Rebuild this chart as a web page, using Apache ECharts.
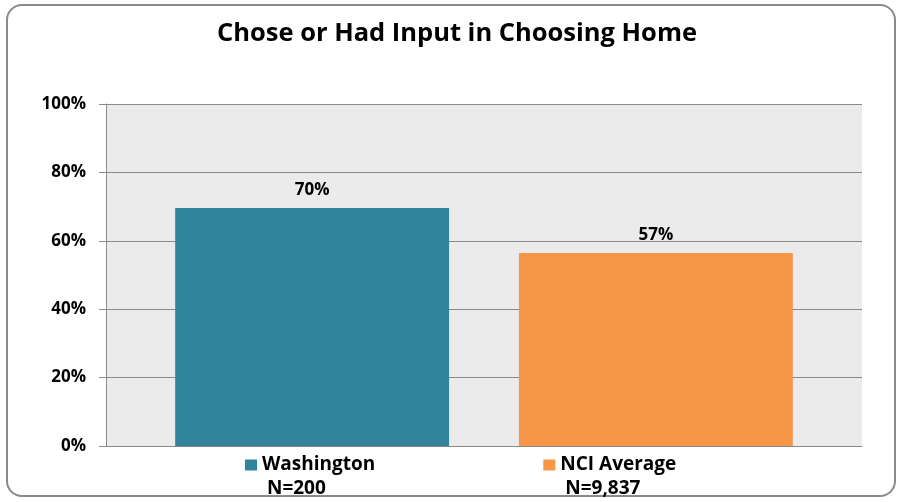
<!DOCTYPE html>
<html>
<head>
<meta charset="utf-8">
<script src="https://cdn.jsdelivr.net/npm/echarts@6/dist/echarts.min.js"></script>
<style>
  html, body { margin: 0; padding: 0; background: #fff; }
  #frame {
    position: absolute; left: 6px; top: 4px; width: 890px; height: 493px;
    border: 2px solid #8a8a8a; border-radius: 16px; box-sizing: border-box;
  }
  #chart { position: absolute; left: 0; top: 0; width: 902px; height: 502px; }
</style>
</head>
<body>
<div id="frame"></div>
<div id="chart"></div>
<script>
// data
const category = ["Chose or Had Input"];
const seriesNames = ["Washington", "NCI Average"];
const sampleSizes = ["N=200", "N=9,837"];
const values = [69.6, 56.4];
const valueLabels = ["70%", "57%"];
const colors = ["#31849b", "#f79646"];

const font = "Open Sans";

// one series per group, side by side in a single category
const series = seriesNames.map((name, i) => ({
    name: name,
    type: "bar",
    barGap: "25.5%",
    barCategoryGap: "18.3%",
    data: [values[i]],
    itemStyle: { color: colors[i] },
    label: {
        show: true,
        position: "top",
        distance: 9,
        formatter: () => valueLabels[i],
        color: "#000",
        fontFamily: font,
        fontWeight: "bold",
        fontSize: 17,
    },
}));

const chart = echarts.init(document.getElementById("chart"));
chart.setOption({
    animation: false,
    title: {
        text: "Chose or Had Input in Choosing Home",
        left: 452,
        textAlign: "center",
        top: 16,
        textStyle: { fontFamily: font, fontWeight: "bold", fontSize: 25.5, color: "#000" },
    },
    grid: {
        left: 106, right: 40, top: 104, bottom: 56,
        show: true, backgroundColor: "#ebebeb", borderWidth: 0,
    },
    legend: {
        left: 245,
        top: 429,
        padding: 0,
        itemGap: 168,
        itemWidth: 12,
        itemHeight: 11,
        icon: "rect",
        data: seriesNames,
        // leading blank line keeps the key square level with the name
        formatter: (name) => "\n" + name + "\n " + sampleSizes[seriesNames.indexOf(name)],
        textStyle: {
            fontFamily: font, fontWeight: "bold", fontSize: 19, color: "#000",
            lineHeight: 24,
        },
    },
    xAxis: {
        type: "category",
        data: category,
        axisTick: { show: false },
        axisLabel: { show: false },
        axisLine: { lineStyle: { color: "#8a8a8a", width: 1 } },
    },
    yAxis: {
        type: "value",
        min: 0, max: 100, interval: 20,
        axisLine: { show: true, lineStyle: { color: "#8a8a8a", width: 1 } },
        axisTick: { show: true, length: 7, lineStyle: { color: "#8a8a8a" } },
        splitLine: { lineStyle: { color: "#8a8a8a", width: 1 } },
        axisLabel: {
            formatter: "{value}%",
            margin: 20,
            color: "#000", fontFamily: font, fontWeight: "bold", fontSize: 17,
        },
    },
    series: series,
});
</script>
</body>
</html>
